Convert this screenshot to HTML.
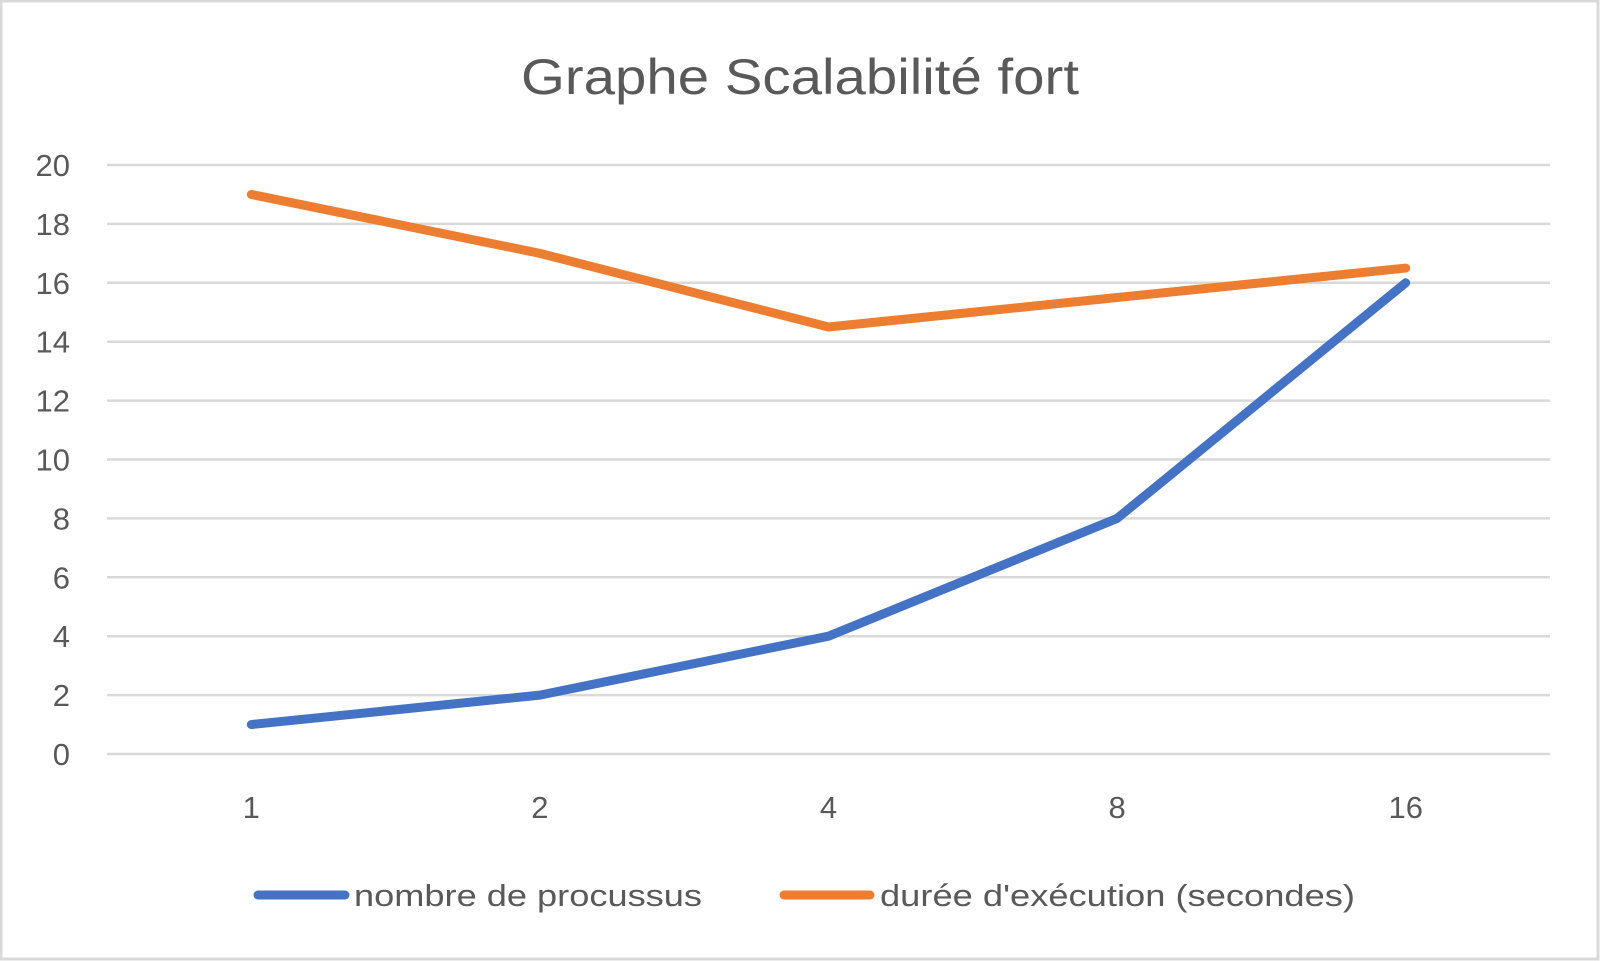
<!DOCTYPE html>
<html><head><meta charset="utf-8"><style>
html,body{margin:0;padding:0;background:#fff;}
svg{display:block;font-family:"Liberation Sans",sans-serif;}
</style></head><body>
<svg id="chart" width="1600" height="961">
<rect x="1" y="1" width="1597" height="958" fill="#fff" stroke="#d9d9d9" stroke-width="3"/>
<text x="800" y="94" text-anchor="middle" font-size="50" fill="#595959" textLength="558" lengthAdjust="spacingAndGlyphs">Graphe Scalabilité fort</text>
<g id="grid"></g><g id="ylab"></g><g id="xlab"></g><g id="series"></g>
<g>
<line x1="258" y1="895" x2="345" y2="895" stroke="#4472c4" stroke-width="9" stroke-linecap="round"/>
<text x="354" y="906" font-size="31" fill="#595959" textLength="348" lengthAdjust="spacingAndGlyphs">nombre de procussus</text>
<line x1="784" y1="895" x2="870" y2="895" stroke="#ed7d31" stroke-width="9" stroke-linecap="round"/>
<text x="880" y="906" font-size="31" fill="#595959" textLength="475" lengthAdjust="spacingAndGlyphs">durée d'exécution (secondes)</text>
</g>
</svg>
<script>
const categories = ["1","2","4","8","16"];
const processes = [1,2,4,8,16];
const duration = [19,17,14.5,15.5,16.5];
const yTicks = [0,2,4,6,8,10,12,14,16,18,20];
const NS="http://www.w3.org/2000/svg";
const x0=107,x1=1550,yTop=165,yBot=754,yMax=20;
const xs=i=>x0+(x1-x0)/categories.length*(i+0.5);
const ys=v=>yBot-(yBot-yTop)*v/yMax;
function mk(tag,attrs,parent){const e=document.createElementNS(NS,tag);for(const k in attrs)e.setAttribute(k,attrs[k]);document.getElementById(parent).appendChild(e);return e;}
yTicks.forEach(t=>{
  const l=mk('line',{x1:x0,x2:x1,y1:ys(t),y2:ys(t),stroke:'#d9d9d9','stroke-width':2.5},'grid');
  
  
  const tx=mk('text',{x:70,y:ys(t)+11,'text-anchor':'end','font-size':31,fill:'#595959'},'ylab');
  tx.textContent=t;
  
  
});
categories.forEach((c,i)=>{
  const tx=mk('text',{x:xs(i),y:818,'text-anchor':'middle','font-size':31,fill:'#595959'},'xlab');
  tx.textContent=c;
  
  
});
function line(vals,color,name){
  const p=mk('polyline',{points:vals.map((v,i)=>xs(i)+','+ys(v)).join(' '),fill:'none',stroke:color,'stroke-width':9,'stroke-linecap':'round','stroke-linejoin':'round'},'series');
  
  
}
line(duration,'#ed7d31','series-duration');
line(processes,'#4472c4','series-processes');
</script>
</body></html>
